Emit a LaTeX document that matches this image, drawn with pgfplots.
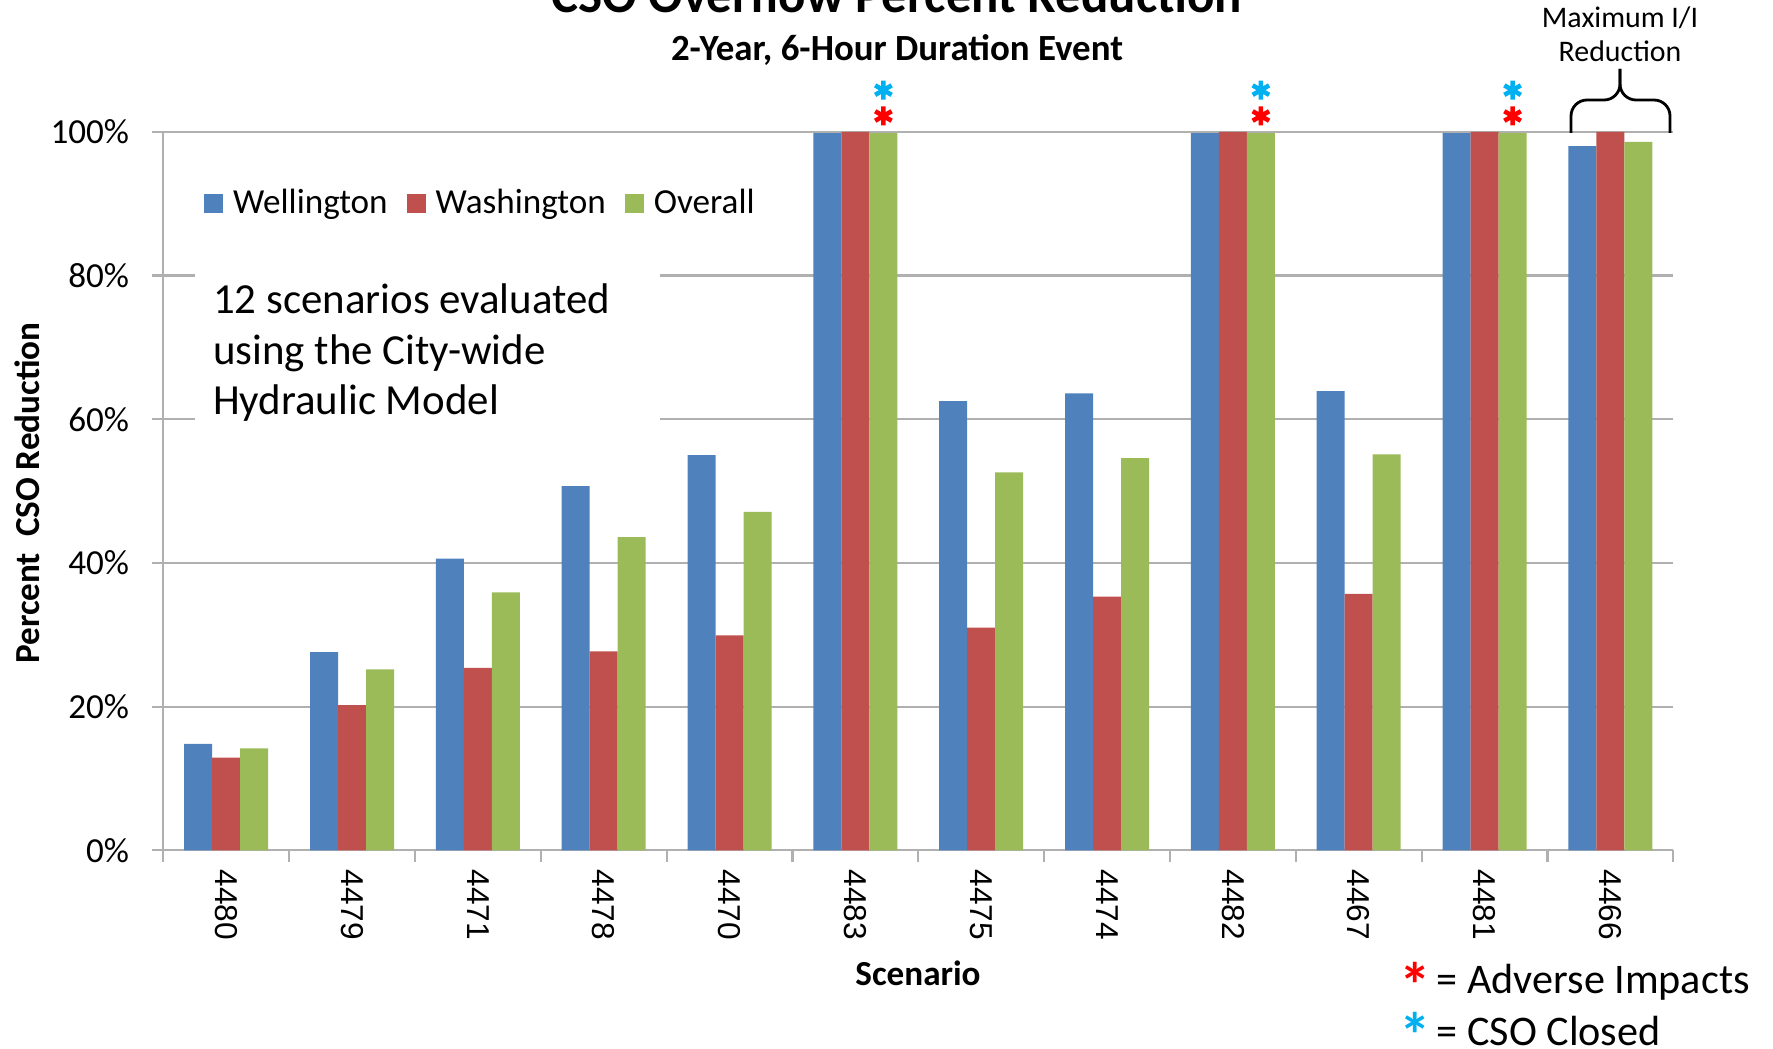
\documentclass[border=0pt]{standalone}
\usepackage{pgfplots}
\pgfplotsset{compat=1.18}
\usepackage{pgfplotstable}
\usepackage{fontspec}
\setmainfont{Carlito}
\newfontfamily\arialfont{Liberation Sans}

\definecolor{wellblue}{HTML}{4F81BD}
\definecolor{washred}{HTML}{C0504D}
\definecolor{overgreen}{HTML}{9BBB59}
\definecolor{gridgray}{HTML}{B0B0B0}
\definecolor{starred}{HTML}{FF0000}
\definecolor{starcyan}{HTML}{00B0F0}

% percent CSO reduction per scenario (x = position on axis)
\pgfplotstableread{
x  wel   was   all
0  14.8  12.9  14.2
1  27.6  20.2  25.2
2  40.6  25.4  35.9
3  50.7  27.7  43.6
4  55.0  29.9  47.1
5  99.8  100   99.8
6  62.5  31.0  52.6
7  63.6  35.3  54.6
8  99.8  100   99.8
9  63.9  35.7  55.1
10 99.8  100   99.8
11 98.0  100   98.6
}\csodata

\begin{document}
\begin{tikzpicture}
\begin{axis}[
  at={(16.33mm,-85.03mm)}, anchor=south west,
  scale only axis,
  width=151.0mm, height=71.85mm,
  xmin=-0.5, xmax=11.5, ymin=0, ymax=100,
  xtick={-0.5,0.5,...,11.5},
  x tick label as interval,
  xticklabels={4480,4479,4471,4478,4470,4483,4475,4474,4482,4467,4481,4466},
  ytick={0,20,...,100},
  yticklabels={0\%,20\%,40\%,60\%,80\%,100\%},
  axis x line*=bottom, axis y line*=left,
  axis line style={gridgray, line width=0.6pt},
  ymajorgrids,
  grid style={gridgray, line width=0.6pt},
  tick align=outside,
  major tick length=1.15mm,
  tick style={gridgray, line width=0.6pt},
  yticklabel style={font=\fontsize{10}{12}\selectfont, inner sep=0pt},
  yticklabel shift=2.2mm,
  xticklabel style={font=\arialfont\fontsize{9}{10}\selectfont, rotate=-90, anchor=west, inner sep=0pt},
  xticklabel shift=0.7mm,
  clip=false,
  legend style={at={(0.0266,0.9002)}, anchor=west, draw=none, fill=none,
    inner sep=0pt, font=\fontsize{10}{12}\selectfont, legend columns=3,
    nodes={inner sep=0pt},
    /tikz/every odd column/.append style={column sep=1mm},
    /tikz/every even column/.append style={column sep=1.9mm}},
  legend image code/.code={\fill[#1] (0mm,-0.95mm) rectangle (1.9mm,0.95mm);},
  csobar/.style={ybar, bar width=2.8mm, draw=none},
]
\addplot[csobar, bar shift=-2.8mm, fill=wellblue] table[x=x, y=wel] {\csodata};
\addlegendentry{Wellington}
\addplot[csobar, bar shift=0mm, fill=washred] table[x=x, y=was] {\csodata};
\addlegendentry{Washington}
\addplot[csobar, bar shift=2.8mm, fill=overgreen] table[x=x, y=all] {\csodata};
\addlegendentry{Overall}

% adverse impacts / CSO closed markers over the Overall bars
\addplot[forget plot, only marks, mark=asterisk, mark size=0.95mm, line width=1.3pt, starred]
  coordinates {(5.2226,102.2) (8.2226,102.2) (10.2226,102.2)};
\addplot[forget plot, only marks, mark=asterisk, mark size=0.95mm, line width=1.3pt, starcyan]
  coordinates {(5.2226,105.8) (8.2226,105.8) (10.2226,105.8)};
\end{axis}

% text box over the grid lines
\fill[white] (19.45mm,-25.0mm) rectangle (66.0mm,-44.0mm);
\begin{scope}[every node/.style={anchor=base west, inner sep=0pt, font=\fontsize{12.2}{14.5}\selectfont}]
\node at (21.25mm,-31.3mm) {12 scenarios evaluated};
\node at (21.25mm,-36.4mm) {using the City-wide};
\node at (21.25mm,-41.4mm) {Hydraulic Model};
\end{scope}

% titles and axis labels
\node[anchor=base, inner sep=0pt, font=\bfseries\fontsize{14.5}{17}\selectfont] at (89.7mm,-1.3mm) {CSO Overflow Percent Reduction};
\node[anchor=base, inner sep=0pt, font=\bfseries\fontsize{10.5}{12}\selectfont] at (89.7mm,-6.1mm) {2-Year, 6-Hour Duration Event};
\node[anchor=base, inner sep=0pt, font=\bfseries\fontsize{10}{12}\selectfont] at (91.8mm,-98.5mm) {Scenario};
\node[anchor=base, inner sep=0pt, rotate=90, font=\bfseries\fontsize{10}{12}\selectfont] at (3.95mm,-49.3mm) {Percent\ \ CSO Reduction};

% brace over the last scenario
\draw[line width=0.8pt, rounded corners=1.6mm] (157.1mm,-13.3mm) -- (157.1mm,-10.0mm) -- (162.0mm,-10.0mm) -- (162.0mm,-6.9mm);
\draw[line width=0.8pt, rounded corners=1.6mm] (167.0mm,-13.3mm) -- (167.0mm,-10.0mm) -- (162.0mm,-10.0mm) -- (162.0mm,-6.9mm);
\node[anchor=base, inner sep=0pt, font=\fontsize{8.5}{10}\selectfont] at (162.0mm,-2.8mm) {Maximum I/I};
\node[anchor=base, inner sep=0pt, font=\fontsize{8.5}{10}\selectfont] at (162.0mm,-6.2mm) {Reduction};

% key for the asterisks
\node[anchor=base, inner sep=0pt, text=starred, font=\bfseries\fontsize{18}{20}\selectfont] at (141.55mm,-100.7mm) {*};
\node[anchor=base west, inner sep=0pt, font=\fontsize{12}{14}\selectfont] at (143.6mm,-99.3mm) {= Adverse Impacts};
\node[anchor=base, inner sep=0pt, text=starcyan, font=\bfseries\fontsize{18}{20}\selectfont] at (141.55mm,-105.75mm) {*};
\node[anchor=base west, inner sep=0pt, font=\fontsize{12}{14}\selectfont] at (143.6mm,-104.5mm) {= CSO Closed};

\pgfresetboundingbox
\useasboundingbox (0,0) rectangle (177.3mm,-104.8mm);
\end{tikzpicture}
\end{document}
